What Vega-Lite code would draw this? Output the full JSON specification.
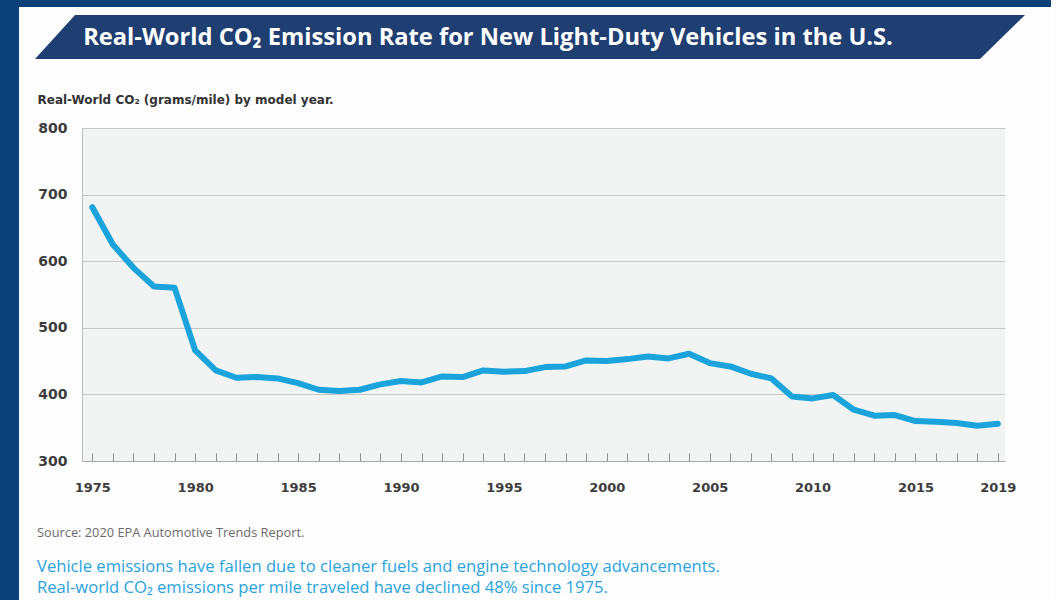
{
  "$schema": "https://vega.github.io/schema/vega-lite/v6.json",
  "background": "#fdfdfd",
  "padding": 0,
  "spacing": 0,
  "bounds": "flush",
  "config": {"view": {"stroke": null}, "concat": {"spacing": 0}, "font": "Open Sans"},
  "hconcat": [
    {
      "width": 13, "height": 600,
      "data": {"values": [{}]},
      "mark": {"type": "rect", "color": "#0c4079"},
      "encoding": {}
    },
    {
      "spacing": 0,
      "bounds": "flush",
      "vconcat": [
        {
          "width": 1038, "height": 7,
          "data": {"values": [{}]},
          "mark": {"type": "rect", "color": "#0c4079"},
          "encoding": {}
        },
        {
          "width": 1038, "height": 121,
          "data": {"values": [{"label": "Real-World CO₂ Emission Rate for New Light-Duty Vehicles in the U.S."}]},
          "layer": [
            {
              "mark": {
                "type": "point",
                "shape": "M -0.914 -0.105 L 0.986 -0.105 L 0.896 -0.017 L -0.994 -0.017 Z",
                "size": 1000000,
                "filled": true,
                "opacity": 1,
                "strokeWidth": 0,
                "color": "#1f3e71"
              },
              "encoding": {}
            },
            {
              "mark": {
                "type": "text",
                "align": "center",
                "baseline": "middle",
                "dx": -44,
                "dy": -30,
                "font": "Open Sans",
                "fontSize": 23.7,
                "fontWeight": "bold",
                "color": "#ffffff"
              },
              "encoding": {"text": {"field": "label"}}
            }
          ]
        },
        {
          "spacing": 0,
          "bounds": "flush",
          "hconcat": [
            {
              "width": 69, "height": 333,
              "data": {"values": [{}]},
              "mark": {"type": "rect", "opacity": 0},
              "encoding": {}
            },
            {
              "width": 923, "height": 333,
              "view": {"fill": "#f2f4f4", "stroke": null},
              "title": {
                "text": "Source: 2020 EPA Automotive Trends Report.",
                "orient": "bottom",
                "anchor": "start",
                "frame": "group",
                "dx": -45,
                "offset": 33,
                "font": "Open Sans",
                "fontSize": 12.8,
                "fontWeight": "normal",
                "color": "#6b6b6b",
                "subtitle": [
                  "Vehicle emissions have fallen due to cleaner fuels and engine technology advancements.",
                  "Real-world CO₂ emissions per mile traveled have declined 48% since 1975."
                ],
                "subtitleFont": "Open Sans",
                "subtitleColor": "#2aa3dc",
                "subtitleFontSize": 16.6,
                "subtitleFontWeight": 500,
                "subtitlePadding": 19,
                "subtitleLineHeight": 21
              },
              "data": {"values": [
                {"year": 1975, "co2": 681}, {"year": 1976, "co2": 625}, {"year": 1977, "co2": 590},
                {"year": 1978, "co2": 562}, {"year": 1979, "co2": 560}, {"year": 1980, "co2": 466},
                {"year": 1981, "co2": 436}, {"year": 1982, "co2": 425}, {"year": 1983, "co2": 426},
                {"year": 1984, "co2": 424}, {"year": 1985, "co2": 417}, {"year": 1986, "co2": 407},
                {"year": 1987, "co2": 405}, {"year": 1988, "co2": 407}, {"year": 1989, "co2": 415},
                {"year": 1990, "co2": 420}, {"year": 1991, "co2": 418}, {"year": 1992, "co2": 427},
                {"year": 1993, "co2": 426}, {"year": 1994, "co2": 436}, {"year": 1995, "co2": 434},
                {"year": 1996, "co2": 435}, {"year": 1997, "co2": 441}, {"year": 1998, "co2": 442},
                {"year": 1999, "co2": 451}, {"year": 2000, "co2": 450}, {"year": 2001, "co2": 453},
                {"year": 2002, "co2": 457}, {"year": 2003, "co2": 454}, {"year": 2004, "co2": 461},
                {"year": 2005, "co2": 447}, {"year": 2006, "co2": 442}, {"year": 2007, "co2": 431},
                {"year": 2008, "co2": 424}, {"year": 2009, "co2": 397}, {"year": 2010, "co2": 394},
                {"year": 2011, "co2": 399}, {"year": 2012, "co2": 377}, {"year": 2013, "co2": 368},
                {"year": 2014, "co2": 369}, {"year": 2015, "co2": 360}, {"year": 2016, "co2": 359},
                {"year": 2017, "co2": 357}, {"year": 2018, "co2": 353}, {"year": 2019, "co2": 356}
              ]},
              "mark": {"type": "line", "color": "#1ba3dc", "strokeWidth": 6, "strokeJoin": "round", "strokeCap": "round"},
              "encoding": {
                "x": {
                  "field": "year", "type": "quantitative",
                  "scale": {"domain": [1974.5, 2019.35], "nice": false, "zero": false},
                  "axis": {
                    "values": [1975,1976,1977,1978,1979,1980,1981,1982,1983,1984,1985,1986,1987,1988,1989,1990,1991,1992,1993,1994,1995,1996,1997,1998,1999,2000,2001,2002,2003,2004,2005,2006,2007,2008,2009,2010,2011,2012,2013,2014,2015,2016,2017,2018,2019],
                    "format": "d",
                    "labelExpr": "datum.value % 5 === 0 || datum.value === 2019 ? datum.label : ''",
                    "ticks": true,
                    "tickSize": -8,
                    "tickWidth": 1,
                    "tickColor": "#8f8f8f",
                    "domainColor": "#a8a8a8",
                    "grid": false,
                    "labelPadding": 28,
                    "labelFont": "DejaVu Sans",
                    "labelFontSize": 13,
                    "labelFontWeight": "bold",
                    "labelColor": "#3d3d3d",
                    "labelOverlap": false,
                    "labelFlush": false,
                    "title": null
                  }
                },
                "y": {
                  "field": "co2", "type": "quantitative",
                  "scale": {"domain": [300, 800], "nice": false, "zero": false},
                  "axis": {
                    "values": [300, 400, 500, 600, 700, 800],
                    "grid": true,
                    "gridColor": "#c6c8c8",
                    "ticks": false,
                    "domainColor": "#bdbdbd",
                    "labelPadding": 15,
                    "labelFont": "DejaVu Sans",
                    "labelFontSize": 14,
                    "labelFontWeight": "bold",
                    "labelColor": "#3d3d3d",
                    "title": "Real-World CO₂ (grams/mile) by model year.",
                    "titleAngle": 0,
                    "titleAlign": "left",
                    "titleBaseline": "middle",
                    "titleX": -45,
                    "titleY": -29,
                    "titleFont": "DejaVu Sans",
                    "titleFontSize": 12,
                    "titleFontWeight": "bold",
                    "titleColor": "#333333"
                  }
                }
              }
            }
          ]
        }
      ]
    },
    {
      "width": 6, "height": 600,
      "data": {"values": [{}]},
      "mark": {"type": "rect", "color": "#0c4079"},
      "encoding": {}
    }
  ]
}
